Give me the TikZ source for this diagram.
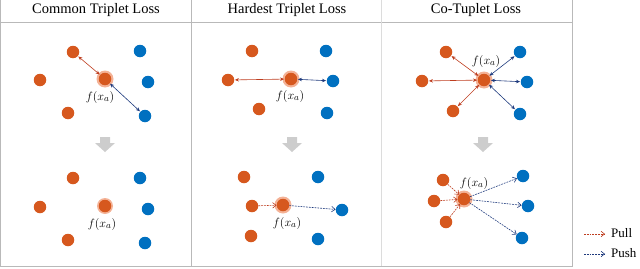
\documentclass[tikz,border=0pt]{standalone}
\usepackage{fontspec}
\setmainfont{Liberation Serif}
\usetikzlibrary{arrows.meta}
\definecolor{dotor}{RGB}{214,88,30}
\definecolor{dotbl}{RGB}{0,112,192}
\definecolor{arror}{RGB}{190,62,32}
\definecolor{arrbl}{RGB}{30,58,125}
\definecolor{glow}{RGB}{244,178,150}
\definecolor{frame}{RGB}{185,185,185}
\definecolor{blockar}{RGB}{205,205,205}
\tikzset{
  x=1pt, y=-1pt,
  od/.style={circle, fill=dotor, minimum size=12.5pt, inner sep=0pt},
  bd/.style={circle, fill=dotbl, minimum size=12.5pt, inner sep=0pt},
  an/.style={circle, fill=dotor, minimum size=12.5pt, inner sep=0pt},
  halo/.style={fill=glow},
  pullsolid/.style={arror, line width=0.6pt, {Stealth[length=4pt,width=3.5pt]}-{Stealth[length=4pt,width=3.5pt]}, shorten <=0.5pt, shorten >=0.5pt},
  pushsolid/.style={arrbl, line width=0.6pt, {Stealth[length=4pt,width=3.5pt]}-{Stealth[length=4pt,width=3.5pt]}, shorten <=0.5pt, shorten >=0.5pt},
  pulld/.style={arror, line width=0.6pt, dash pattern=on 1.8pt off 1pt, -{Straight Barb[length=3.5pt,width=5.5pt]}},
  pushd/.style={arrbl, line width=0.6pt, dash pattern=on 1.8pt off 1pt, -{Straight Barb[length=3.5pt,width=5.5pt]}},
  hdr/.style={font=\fontsize{14.5}{16}\selectfont, inner sep=0pt},
  lbl/.style={font=\fontsize{12.5}{14}\selectfont, inner sep=0pt},
  leg/.style={font=\fontsize{13}{15}\selectfont, inner sep=0pt, anchor=west},
  frm/.style={draw=frame, line width=0.7pt},
  down/.style={fill=blockar},
}
\newcommand{\grayblockarrow}[1]{\fill[down] (#1-5,137) -- (#1+5,137) -- (#1+5,143) -- (#1+10,143) -- (#1,152) -- (#1-10,143) -- (#1-5,143) -- cycle;}
\begin{document}
\begin{tikzpicture}
\useasboundingbox (0,0) rectangle (640,268);
% frame
\draw[frm] (0.5,22) -- (572,22);
\draw[frm] (0.5,0) -- (0.5,266.5);
\draw[frm] (191,0) -- (191,266.5);
\draw[frm, draw=frame!50] (381,0) -- (381,266.5);
\draw[frm] (572,0) -- (572,266.5);
\draw[frm] (0.5,266.5) -- (572,266.5);
% headers
\node[hdr] (h1) at (96,10) {Common Triplet Loss};
\node[hdr] (h2) at (287,10) {Hardest Triplet Loss};
\node[hdr] (h3) at (476,10) {Co-Tuplet Loss};
% block arrows
\grayblockarrow{105}
\grayblockarrow{292}
\grayblockarrow{483}
% ---------- Panel 1 top
\fill[halo] (105,79) circle (8.5);
\node[an] (a1) at (105,79) {};
\node[od] (o1a) at (73,52) {};
\node[od] (o1b) at (40,80) {};
\node[od] (o1c) at (68,113) {};
\node[bd] (b1a) at (140,51) {};
\node[bd] (b1b) at (148,82) {};
\node[bd] (b1c) at (145,116) {};
\node[lbl] (l1) at (100,97) {$f(x_a)$};
\draw[pullsolid] (o1a) -- (a1);
\draw[pushsolid] (a1) -- (b1c);
% ---------- Panel 1 bottom
\fill[halo] (105,206) circle (8);
\node[an] (a2) at (105,206) {};
\node[od] (o2a) at (73,178) {};
\node[od] (o2b) at (40,207) {};
\node[od] (o2c) at (68,240) {};
\node[bd] (b2a) at (140,178) {};
\node[bd] (b2b) at (148,209) {};
\node[bd] (b2c) at (145,243) {};
\node[lbl] (l2) at (102,224) {$f(x_a)$};
% ---------- Panel 2 top
\fill[halo] (291,79) circle (8.5);
\node[an] (a3) at (291,79) {};
\node[od] (o3a) at (252,51) {};
\node[od] (o3b) at (228,80) {};
\node[od] (o3c) at (259,109) {};
\node[bd] (b3a) at (326,51) {};
\node[bd] (b3b) at (333,81) {};
\node[bd] (b3c) at (327,113) {};
\node[lbl] (l3) at (290,96) {$f(x_a)$};
\draw[pullsolid] (o3b) -- (a3);
\draw[pushsolid] (a3) -- (b3b);
% ---------- Panel 2 bottom
\fill[halo] (283,205) circle (8.5);
\node[an] (a4) at (283,205) {};
\node[od] (o4a) at (244,177) {};
\node[od] (o4b) at (252,206) {};
\node[od] (o4c) at (251,236) {};
\node[bd] (b4a) at (318,177) {};
\node[bd] (b4b) at (342,210) {};
\node[bd] (b4c) at (318,239) {};
\node[lbl] (l4) at (287,223) {$f(x_a)$};
\draw[pulld] (o4b) -- (a4);
\draw[pushd] (a4) -- (b4b);
% ---------- Panel 3 top
\fill[halo] (484,80) circle (8.5);
\node[an] (a5) at (484,80) {};
\node[od] (o5a) at (446,52) {};
\node[od] (o5b) at (422,81) {};
\node[od] (o5c) at (453,111) {};
\node[bd] (b5a) at (520,52) {};
\node[bd] (b5b) at (527,82) {};
\node[bd] (b5c) at (520,114) {};
\node[lbl] (l5) at (486,61) {$f(x_a)$};
\draw[pullsolid] (o5a) -- (a5);
\draw[pullsolid] (o5b) -- (a5);
\draw[pullsolid] (o5c) -- (a5);
\draw[pushsolid] (a5) -- (b5a);
\draw[pushsolid] (a5) -- (b5b);
\draw[pushsolid] (a5) -- (b5c);
% ---------- Panel 3 bottom
\fill[halo] (464,199) circle (8.5);
\node[an] (a6) at (464,199) {};
\node[od] (o6a) at (443,180) {};
\node[od] (o6b) at (434,201) {};
\node[od] (o6c) at (446,222) {};
\node[bd] (b6a) at (523,176) {};
\node[bd] (b6b) at (528,206) {};
\node[bd] (b6c) at (522,238) {};
\node[lbl] (l6) at (474,183) {$f(x_a)$};
\draw[pulld] (o6a) -- (a6);
\draw[pulld] (o6b) -- (a6);
\draw[pulld] (o6c) -- (a6);
\draw[pushd] (a6) -- (b6a);
\draw[pushd] (a6) -- (b6b);
\draw[pushd] (a6) -- (b6c);
% legend
\coordinate (p1) at (584,234);
\coordinate (p2) at (605,234);
\coordinate (q1) at (584,254);
\coordinate (q2) at (605,254);
\draw[pulld] (p1) -- (p2);
\draw[pushd] (q1) -- (q2);
\node[leg] (t1) at (611,233) {Pull};
\node[leg] (t2) at (611,253) {Push};
\end{tikzpicture}
\end{document}
